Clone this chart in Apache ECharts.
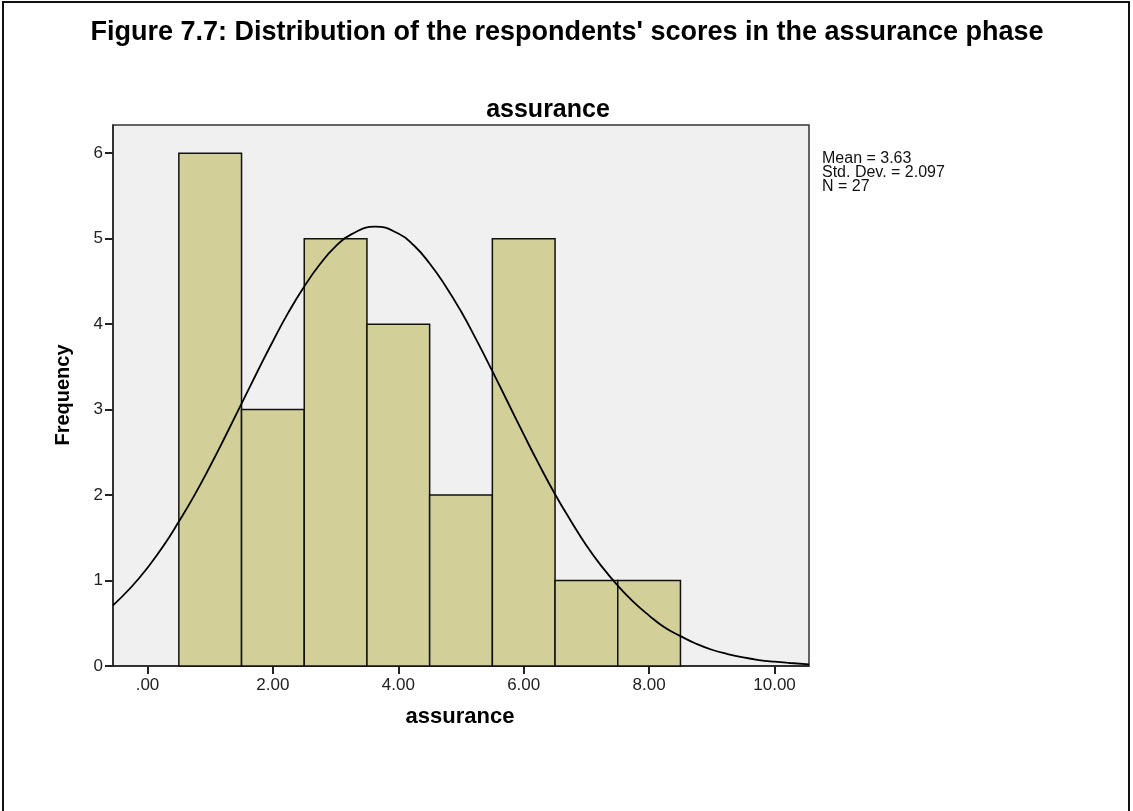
<!DOCTYPE html>
<html>
<head>
<meta charset="utf-8">
<title>assurance</title>
<script src="https://cdn.jsdelivr.net/npm/echarts@6/dist/echarts.min.js"></script>
<style>
  html, body { margin: 0; padding: 0; background: #fff; }
  #main { width: 1133px; height: 811px; }
</style>
</head>
<body>
<div id="main"></div>
<script>
// histogram bins (score ranges) and frequencies
var binStart = [0.5, 1.5, 2.5, 3.5, 4.5, 5.5, 6.5, 7.5];
var binEnd = [1.5, 2.5, 3.5, 4.5, 5.5, 6.5, 7.5, 8.5];
var counts = [6, 3, 5, 4, 2, 5, 1, 1];

// normal curve, points
var curveX = [-0.55, -0.25, 0, 0.25, 0.5, 0.75, 1, 1.25, 1.5, 1.75, 2, 2.25, 2.5, 2.75, 3, 3.25, 3.63,
              4, 4.25, 4.5, 4.75, 5, 5.25, 5.5, 5.75, 6, 6.25, 6.5, 6.75, 7, 7.25, 7.5, 7.75,
              8, 8.25, 8.5, 8.75, 9, 9.25, 9.5, 9.75, 10, 10.25, 10.55];
var curveY = [0.71, 0.93, 1.15, 1.40, 1.69, 2.00, 2.34, 2.70, 3.07, 3.44, 3.80, 4.14, 4.44, 4.70, 4.91, 5.05, 5.14,
              5.06, 4.92, 4.71, 4.45, 4.15, 3.81, 3.45, 3.08, 2.71, 2.35, 2.01, 1.70, 1.41, 1.16, 0.94, 0.75,
              0.59, 0.45, 0.35, 0.26, 0.19, 0.14, 0.10, 0.07, 0.05, 0.035, 0.02];

var xTicks = [0, 2, 4, 6, 8, 10];
var yTicks = [0, 1, 2, 3, 4, 5, 6];
var stats = ['Mean = 3.63', 'Std. Dev. = 2.097', 'N = 27'];

var font = "'Liberation Sans', Arial, sans-serif";

var myChart = echarts.init(document.getElementById('main'));

var barData = binStart.map(function (s, i) { return [s, binEnd[i], counts[i]]; });
var lineData = curveX.map(function (x, i) { return [x, curveY[i]]; });

var option = {
    animation: false,
    textStyle: { fontFamily: font },
    grid: {
        left: 113, top: 125, right: 324, bottom: 145,
        show: true,
        backgroundColor: '#f0f0f0',
        borderColor: '#333',
        borderWidth: 1.5,
        outerBoundsMode: 'none'
    },
    xAxis: {
        type: 'value',
        min: -0.55,
        max: 10.55,
        axisLine: { show: true, onZero: false, lineStyle: { color: '#222', width: 1.5 } },
        axisTick: { show: true, length: 8, customValues: xTicks, lineStyle: { color: '#222', width: 2 } },
        axisLabel: {
            customValues: xTicks,
            margin: 11,
            fontSize: 17,
            color: '#222',
            fontFamily: font,
            formatter: function (v) { return v === 0 ? '.00' : v.toFixed(2); }
        },
        splitLine: { show: false }
    },
    yAxis: {
        type: 'value',
        min: 0,
        max: 6.33,
        axisLine: { show: true, onZero: false, lineStyle: { color: '#222', width: 1.5 } },
        axisTick: { show: true, length: 8, customValues: yTicks, lineStyle: { color: '#222', width: 2 } },
        axisLabel: {
            customValues: yTicks,
            margin: 10,
            fontSize: 17,
            color: '#222',
            fontFamily: font
        },
        splitLine: { show: false }
    },
    graphic: [
        // outer frame
        { type: 'rect', z: 100, shape: { x: 3, y: 2, width: 1126, height: 830 },
          style: { fill: null, stroke: '#111', lineWidth: 2 } },
        { type: 'text', z: 100, x: 567, y: 33,
          style: { text: "Figure 7.7: Distribution of the respondents' scores in the assurance phase",
                   font: 'bold 27px ' + font, fill: '#000', align: 'center', verticalAlign: 'middle' } },
        { type: 'text', z: 100, x: 548, y: 110,
          style: { text: 'assurance', font: 'bold 25px ' + font, fill: '#000', align: 'center', verticalAlign: 'middle' } },
        { type: 'text', z: 100, x: 460, y: 717,
          style: { text: 'assurance', font: 'bold 22px ' + font, fill: '#000', align: 'center', verticalAlign: 'middle' } },
        { type: 'text', z: 100, x: 63, y: 395, rotation: Math.PI / 2,
          style: { text: 'Frequency', font: 'bold 20px ' + font, fill: '#000', align: 'center', verticalAlign: 'middle' } },
        { type: 'text', z: 100, x: 822, y: 152,
          style: { text: stats.join('\n'), font: '16px ' + font, lineHeight: 14, fill: '#111', align: 'left', verticalAlign: 'top' } }
    ],
    series: [
        {
            type: 'custom',
            z: 2,
            data: barData,
            encode: { x: [0, 1], y: 2 },
            renderItem: function (params, api) {
                var p0 = api.coord([api.value(0), 0]);
                var p1 = api.coord([api.value(1), api.value(2)]);
                return {
                    type: 'rect',
                    shape: { x: p0[0], y: p1[1], width: p1[0] - p0[0], height: p0[1] - p1[1] },
                    style: { fill: '#d3cf99', stroke: '#111', lineWidth: 1.5 }
                };
            }
        },
        {
            type: 'line',
            z: 3,
            data: lineData,
            smooth: true,
            showSymbol: false,
            symbol: 'none',
            lineStyle: { color: '#000', width: 1.8 }
        }
    ]
};

myChart.setOption(option);
</script>
</body>
</html>
